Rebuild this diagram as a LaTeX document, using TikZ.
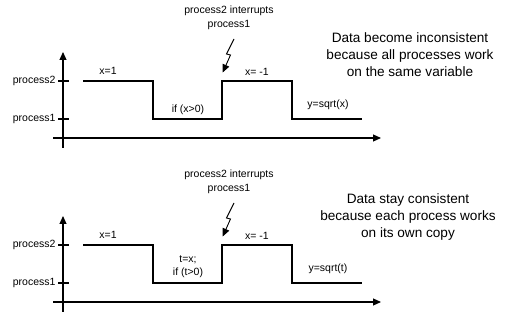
\documentclass[tikz,border=0pt]{standalone}
\usepackage{fontspec}
\setmainfont{Liberation Sans}
\usetikzlibrary{arrows.meta,positioning}

\begin{document}
\begin{tikzpicture}[x=1pt,y=-1pt,line width=1.1pt,
  txt/.style={font=\fontsize{10.5}{13.5}\selectfont,inner sep=0pt,align=center},
  note/.style={font=\fontsize{13.6}{17}\selectfont,inner sep=0pt,align=center},
  axis/.style={-{Triangle[length=8pt,width=7pt]}},
  bolt/.style={-{Triangle[length=8pt,width=7pt]},line width=0.9pt}]
  \useasboundingbox (0,0) rectangle (507,315);
  % two time charts, the second one shifted down
  \foreach \oy/\c in {0/a,164/b}{
    % axes
    \coordinate (ybot\c) at (63,148+\oy);
    \coordinate (ytop\c) at (63,52+\oy);
    \coordinate (xlft\c) at (53,138+\oy);
    \coordinate (xrgt\c) at (381,138+\oy);
    \draw[axis] (ybot\c) -- (ytop\c);
    \draw[axis] (xlft\c) -- (xrgt\c);
    \node[txt,anchor=east] (ptwo\c) at (56,81+\oy) {process2};
    \node[txt,anchor=east] (pone\c) at (56,119+\oy) {process1};
    \draw (ptwo\c.east) ++(2,0) -- ++(11,0);
    \draw (pone\c.east) ++(2,0) -- ++(11,0);
    % process levels
    \draw (83,81+\oy) -| (153,119+\oy) -| (222,81+\oy) -| (292,119+\oy) -- (362,119+\oy);
    \node[txt] (xone\c) at (108,71+\oy) {x=1};
    \node[txt] (xneg\c) at (257,72+\oy) {x= -1};
    % interrupt
    \node[txt] (intr\c) at (229,18+\oy) {process2 interrupts\\process1};
    \coordinate (ztop\c) at (234,39+\oy);
    \coordinate (ztip\c) at (222.7,72.5+\oy);
    \draw[bolt] (ztop\c) -- ++(-7.5,15) -- ++(4,1) -- (ztip\c);
  }
  \node[txt] (tsta) at (188,110) {if (x>0)};
  \node[txt] (tenda) at (328,105) {y=sqrt(x)};
  \node[note] (notea) at (410,55) {Data become inconsistent\\because all processes work\\on the same variable};
  \node[txt] (tstb) at (188,266.5) {t=x;\\if (t>0)};
  \node[txt] (tendb) at (328,269) {y=sqrt(t)};
  \node[note] (noteb) at (408,217) {Data stay consistent\\because each process works\\on its own copy};
\end{tikzpicture}
\end{document}
